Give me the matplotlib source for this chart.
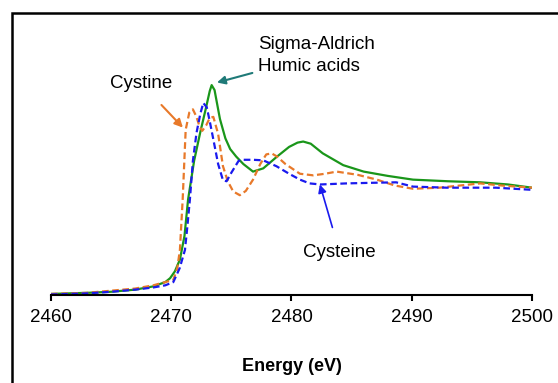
import matplotlib
matplotlib.use("Agg")
from matplotlib import pyplot as plt
from matplotlib.patches import Rectangle

plt.rcParams['font.family'] = ['Liberation Sans', 'DejaVu Sans']

# normalized absorbance
humic_e = [2460, 2463, 2465, 2467, 2468.5, 2469.5, 2469.9, 2470.3, 2470.72, 2471.1, 2471.4,
           2471.9, 2472.4, 2472.9, 2473.2, 2473.36, 2473.6, 2474.05, 2474.5, 2474.9, 2475.4,
           2476.0, 2476.8, 2477.65, 2478.8, 2479.8, 2480.5, 2480.97, 2481.6, 2482.6, 2484.3,
           2486.0, 2488.0, 2490.1, 2493.0, 2495.7, 2498.0, 2500]
humic_y = [0.01, 0.02, 0.03, 0.05, 0.08, 0.12, 0.156, 0.22, 0.33, 0.55, 0.89,
           1.25, 1.51, 1.75, 1.90, 1.956, 1.91, 1.64, 1.46, 1.36, 1.29,
           1.22, 1.15, 1.18, 1.29, 1.38, 1.42, 1.43, 1.41, 1.32, 1.21,
           1.15, 1.11, 1.075, 1.06, 1.05, 1.03, 1.0]

cystine_e = [2460, 2463, 2465, 2467, 2468.5, 2469.5, 2470.17, 2470.5, 2470.72, 2470.95, 2471.2,
             2471.5, 2471.8, 2472.1, 2472.35, 2472.58, 2472.9, 2473.2, 2473.5, 2473.9, 2474.3,
             2474.7, 2475.15, 2475.7, 2476.2, 2476.8, 2477.4, 2477.9, 2478.35, 2478.8, 2479.5,
             2480.7, 2481.8, 2482.8, 2483.75, 2485.5, 2487.1, 2488.6, 2490.1, 2492.3, 2494.0,
             2495.7, 2497.5, 2500]
cystine_y = [0.01, 0.02, 0.04, 0.06, 0.09, 0.12, 0.14, 0.25, 0.42, 0.89, 1.54,
             1.70, 1.73, 1.66, 1.57, 1.53, 1.58, 1.65, 1.66, 1.50, 1.20,
             1.06, 0.965, 0.93, 0.97, 1.075, 1.22, 1.31, 1.32, 1.29, 1.22,
             1.13, 1.115, 1.13, 1.15, 1.12, 1.075, 1.02, 0.99, 1.0, 1.02,
             1.04, 1.02, 1.0]

cysteine_e = [2460, 2463, 2465, 2467, 2468.5, 2469.5, 2470.17, 2470.7, 2471.14, 2471.35, 2471.55,
              2471.8, 2472.1, 2472.4, 2472.66, 2472.95, 2473.2, 2473.5, 2473.9, 2474.3, 2474.6,
              2475.0, 2475.6, 2476.0, 2476.8, 2477.65, 2478.75, 2479.8, 2480.7, 2481.5, 2482.4,
              2483.5, 2484.6, 2486.5, 2488.7, 2490.1, 2492.9, 2495.0, 2497.0, 2500]
cysteine_y = [0.005, 0.015, 0.03, 0.05, 0.07, 0.09, 0.12, 0.25, 0.42, 0.65, 0.89,
              1.25, 1.51, 1.68, 1.79, 1.75, 1.62, 1.45, 1.22, 1.07, 1.06,
              1.14, 1.25, 1.26, 1.26, 1.255, 1.2, 1.13, 1.075, 1.04, 1.03,
              1.035, 1.04, 1.045, 1.05, 1.01, 1.0, 1.0, 1.0, 0.98]

xticks = [2460, 2470, 2480, 2490, 2500]

fig = plt.figure(figsize=(5.58, 3.83), dpi=100)
ax = fig.add_axes([0.0914, 0.2298, 0.862, 0.72])

ax.plot(humic_e, humic_y, color='#1a961a', lw=1.6)
ax.plot(cystine_e, cystine_y, color='#e8792a', lw=1.6, dashes=(3, 1.6))
ax.plot(cysteine_e, cysteine_y, color='#1a1aee', lw=1.6, dashes=(3, 1.6))

ax.set_xlim(2460, 2500)
ax.set_ylim(0, 2.57)
ax.set_xticks(xticks)
ax.set_yticks([])
for s in ['left', 'right', 'top']:
    ax.spines[s].set_visible(False)
ax.spines['bottom'].set_linewidth(1.5)
ax.tick_params(axis='x', direction='out', length=4, width=1.5, labelsize=13.5, pad=6)
ax.set_xlabel('Energy (eV)', fontsize=13, fontweight='bold', labelpad=23)

ax.annotate('Cystine', xy=(2470.97, 1.56), xytext=(2467.5, 1.97), fontsize=13.5,
            ha='center', va='center',
            arrowprops=dict(arrowstyle='-|>', color='#e8792a', lw=1.5,
                            shrinkA=10, shrinkB=0, mutation_scale=12))
ax.annotate('Sigma-Aldrich\nHumic acids', xy=(2473.8, 1.98), xytext=(2477.2, 2.23),
            fontsize=13.5, ha='left', va='center', linespacing=1.35,
            arrowprops=dict(arrowstyle='-|>', color='#1f7a78', lw=1.5,
                            shrinkA=2, shrinkB=0, mutation_scale=12))
ax.annotate('Cysteine', xy=(2482.36, 1.03), xytext=(2484.0, 0.40), fontsize=13.5,
            ha='center', va='center',
            arrowprops=dict(arrowstyle='-|>', color='#1a1aee', lw=1.2,
                            shrinkA=10, shrinkB=0, mutation_scale=12))

fig.patches.append(Rectangle((12 / 558, -0.1), 1.2, 1 - 13 / 383 + 0.1,
                             transform=fig.transFigure, fill=False,
                             edgecolor='black', lw=1.8, figure=fig))

fig.savefig('out.png', dpi=100)
